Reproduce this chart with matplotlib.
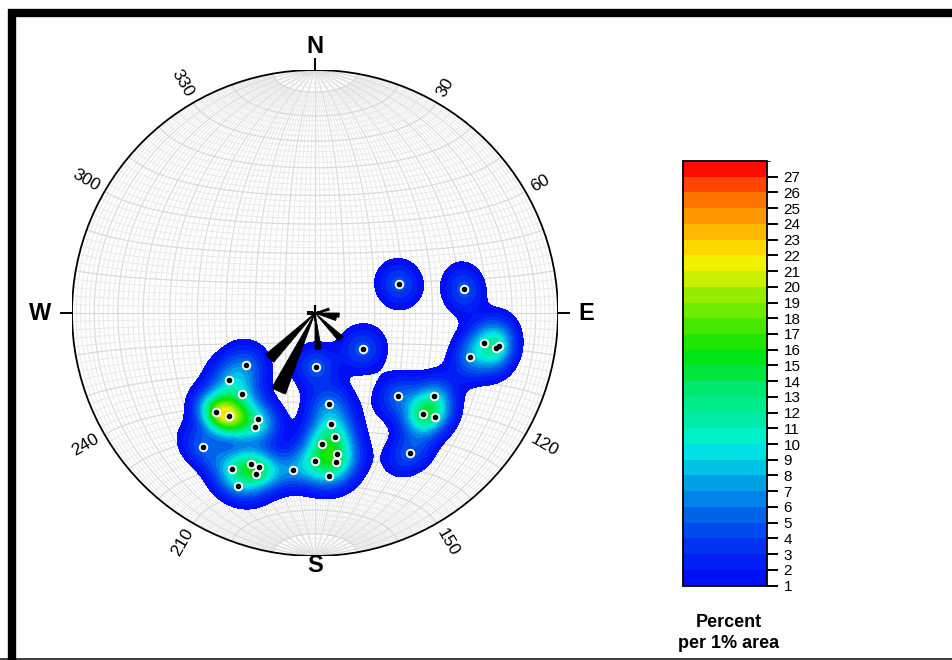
import numpy as np
import matplotlib
matplotlib.use("Agg")
import matplotlib.pyplot as plt
from matplotlib.colors import ListedColormap, BoundaryNorm
from matplotlib.patches import Circle, Rectangle
from matplotlib.lines import Line2D

plt.rcParams['font.family'] = ['Liberation Sans', 'DejaVu Sans']

# ---------------- data ----------------
pole_trend = [233, 232, 222, 225, 220, 208, 208, 220, 208, 203, 200, 200, 204, 188,
              179, 171, 172, 171, 177, 171, 172, 180, 175, 127, 71, 81, 100, 100,
              101, 106, 135, 125, 133, 131, 146]
pole_plunge = [61, 53, 53, 42, 44, 49, 46, 29, 28, 33, 33, 30, 23, 35,
               72, 59, 52, 47, 45, 41, 38, 39, 33, 70, 60, 38, 30, 24,
               25, 34, 50, 40, 39, 35, 31]
pole_count = [1, 1, 1, 2, 3, 1, 1, 1, 1, 1, 1, 1, 1, 1,
              1, 1, 1, 1, 1, 1, 1, 1, 1, 1, 1, 1, 1, 1,
              1, 1, 1, 1, 2, 1, 1]

rose_bin_start = [70, 90, 100, 130, 170, 200, 220]
rose_length = [0.06, 0.10, 0.09, 0.15, 0.15, 0.355, 0.265]

contour_levels = list(range(1, 29))
colorbar_ticks = list(range(1, 28))
band_colors = ['#000ff5', '#001ef5', '#0032f0', '#004bf0', '#0064eb', '#0082eb',
               '#00a0e6', '#00c3e6', '#00e1e6', '#00f0c8', '#00ebaa', '#00eb8c',
               '#00e86e', '#00e63c', '#00e614', '#1ee600', '#46e800', '#6eeb00',
               '#96eb00', '#c8f000', '#f0f000', '#ffd700', '#ffb900', '#ff9600',
               '#ff7300', '#ff4600', '#ff0a00']

ring_labels = [30, 60, 120, 150, 210, 240, 300, 330]
cardinal_labels = ['N', 'E', 'S', 'W']
cardinal_az = [0, 90, 180, 270]
colorbar_title = 'Percent\nper 1% area'

# ---------------- figure / layout ----------------
W, H = 952, 660
fig = plt.figure(figsize=(W / 100, H / 100), dpi=100)
fig.patch.set_facecolor('white')

cx, cy, R = 315, 313, 243
rect = [(cx - R) / W, (H - cy - R) / H, 2 * R / W, 2 * R / H]
ax = fig.add_axes(rect)
ax.set_xlim(-1, 1)
ax.set_ylim(-1, 1)
ax.axis('off')


def project_vec(x, y, z):
    k = 1.0 / np.sqrt(1.0 + z)
    return x * k, y * k


def project_line(trend, plunge):
    t = np.radians(trend)
    p = np.radians(plunge)
    return project_vec(np.cos(p) * np.sin(t), np.cos(p) * np.cos(t), np.sin(p))


# ---------------- equal-area net ----------------
minor_c, major_c = '#e9e9e9', '#dadada'
phi = np.radians(np.linspace(-90, 90, 361))
for lam_deg in range(-88, 90, 2):
    lam = np.radians(lam_deg)
    major = lam_deg % 10 == 0
    ph = phi if major else phi[np.abs(np.degrees(phi)) <= 80.01]
    X, Y = project_vec(np.cos(ph) * np.sin(lam), np.sin(ph), np.cos(ph) * np.cos(lam))
    ax.plot(X, Y, color=major_c if major else minor_c,
            lw=0.9 if major else 0.7, zorder=1)
lamv = np.radians(np.linspace(-90, 90, 361))
for phi_deg in range(-88, 90, 2):
    ph = np.radians(phi_deg)
    major = phi_deg % 10 == 0
    X, Y = project_vec(np.cos(ph) * np.sin(lamv), np.full_like(lamv, np.sin(ph)),
                       np.cos(ph) * np.cos(lamv))
    ax.plot(X, Y, color=major_c if major else minor_c,
            lw=0.9 if major else 0.7, zorder=1)

# ---------------- density ----------------
n = 241
g = np.linspace(-1, 1, n)
GX, GY = np.meshgrid(g, g)
rho2 = GX ** 2 + GY ** 2
inside = rho2 <= 1.0
s = np.sqrt(np.clip(2.0 - rho2, 0, None))
vx, vy, vz = GX * s, GY * s, 1.0 - rho2

tr = np.radians(pole_trend)
pl = np.radians(pole_plunge)
px, py, pz = np.cos(pl) * np.sin(tr), np.cos(pl) * np.cos(tr), np.sin(pl)
sigma = np.radians(4.8)
peak = 4.5
dens = np.zeros_like(GX)
for a, b, c, w in zip(px, py, pz, pole_count):
    d = np.abs(vx * a + vy * b + vz * c)
    th = np.arccos(np.clip(d, -1, 1))
    dens += w * np.exp(-th ** 2 / (2 * sigma ** 2))
dens *= peak
dens = np.ma.masked_where(~inside, dens)

cmap = ListedColormap(band_colors)
norm = BoundaryNorm(contour_levels, cmap.N)
cs = ax.contourf(GX, GY, dens, levels=contour_levels, cmap=cmap, norm=norm, zorder=2)

# primitive circle, cardinal ticks & labels
ax.add_patch(Circle((0, 0), 1.0, fill=False, ec='black', lw=1.3, zorder=5))
label_r = [1.095, 1.115, 1.04, 1.13]
for lab, az, lr in zip(cardinal_labels, cardinal_az, label_r):
    a = np.radians(az)
    if lab != 'S':
        ax.plot([np.sin(a), 1.045 * np.sin(a)], [np.cos(a), 1.045 * np.cos(a)],
                color='black', lw=1.4, zorder=5, clip_on=False)
    ax.text(lr * np.sin(a), lr * np.cos(a), lab, ha='center', va='center',
            fontsize=17, fontweight='bold', clip_on=False)

for az in ring_labels:
    a = np.radians(az)
    rot = 90 - az
    if az < 180:
        ha = 'left'
    else:
        rot += 180
        ha = 'right'
    rot = (rot + 180) % 360 - 180
    r0 = 1.03
    ax.text(r0 * np.sin(a), r0 * np.cos(a), str(az), rotation=rot,
            rotation_mode='anchor', ha=ha, va='center', fontsize=12.5, clip_on=False)

# poles
ppx, ppy = project_line(np.array(pole_trend), np.array(pole_plunge))
ax.plot(ppx, ppy, 'o', ms=6.8, mfc='white', mec='none', zorder=7)
ax.plot(ppx, ppy, 'o', ms=3.0, mfc='black', mec='black', zorder=8)

# ---------------- rose diagram ----------------
axr = fig.add_axes(rect, projection='polar', facecolor='none')
axr.set_theta_zero_location('N')
axr.set_theta_direction(-1)
axr.set_ylim(0, 1)
axr.axis('off')
axr.bar(np.radians(np.array(rose_bin_start) + 5), rose_length, width=np.radians(10),
        bottom=0, color='black', edgecolor='black', lw=0.6, align='center')
axr.plot([0], [0], marker='+', ms=11, mew=1.6, color='black')

# ---------------- colorbar ----------------
cax = fig.add_axes([683 / W, (H - 585.5) / H, 84 / W, 424.5 / H])
cb = fig.colorbar(cs, cax=cax, ticks=colorbar_ticks)
cb.outline.set_linewidth(1.3)
cax.tick_params(length=8, width=1.4, labelsize=11, pad=4, direction='out')
fig.text(729 / W, 1 - 633 / H, colorbar_title, ha='center', va='center',
         fontsize=13, fontweight='bold', linespacing=1.3)

# ---------------- frame ----------------
fig.patches.append(Rectangle((12.3 / W, -0.5), 2.0, 1.5 - 12.5 / H,
                             transform=fig.transFigure, fill=False,
                             ec='black', lw=6.0, zorder=10))
fig.lines.append(Line2D([0, 1], [0.8 / H, 0.8 / H], transform=fig.transFigure,
                        color='#3a3a3a', lw=1.4))

fig.savefig('out.png', dpi=100)
